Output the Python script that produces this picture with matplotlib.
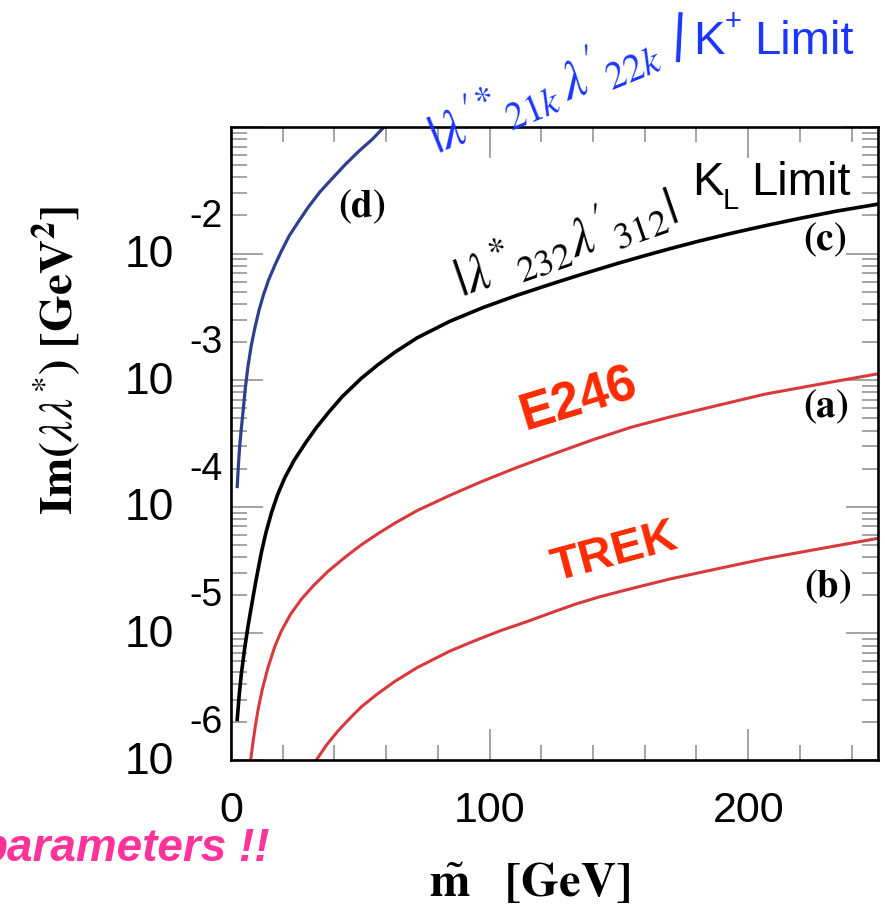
import matplotlib
matplotlib.use("Agg")
import matplotlib.pyplot as plt
import numpy as np
from matplotlib.ticker import FixedLocator, NullFormatter

plt.rcParams["mathtext.fontset"] = "stix"
plt.rcParams["font.family"] = ["Liberation Sans", "DejaVu Sans"]

# limit curves, Im(lambda lambda*) [GeV^2] vs m~ [GeV]; stored as log10(Im)
m_d = [2.4, 2.9, 3.4, 4.0, 4.7, 5.5, 6.5, 7.8, 9.2, 10.8, 12.5, 14.5, 17.0,
       19.5, 22.5, 26.0, 30.0, 34.5, 39.0, 44.0, 49.5, 54.5, 59.2]
log_d = [-3.84, -3.66, -3.51, -3.38, -3.24, -3.07, -2.90, -2.73, -2.59, -2.45,
         -2.33, -2.21, -2.09, -1.98, -1.86, -1.75, -1.63, -1.51, -1.41, -1.30,
         -1.19, -1.10, -1.00]

m_c = [2.4, 3.2, 4.0, 5.2, 6.6, 8.0, 9.5, 11.7, 13.5, 15.6, 18.0, 20.8, 24.5,
       29.0, 33.0, 37.5, 43.0, 50.4, 57.0, 63.3, 72.0, 84.6, 97.6, 110.5,
       123.4, 136.2, 149.1, 160.0, 169.8, 181.0, 193.6, 206.0, 219.4, 234.0,
       250.0]
log_c = [-5.68, -5.48, -5.32, -5.13, -4.94, -4.775, -4.60, -4.365, -4.205,
         -4.05, -3.905, -3.77, -3.63, -3.49, -3.375, -3.26, -3.13, -2.985,
         -2.875, -2.78, -2.665, -2.535, -2.425, -2.33, -2.243, -2.16, -2.08,
         -2.016, -1.961, -1.901, -1.839, -1.782, -1.724, -1.665, -1.61]

m_a = [7.6, 8.5, 9.5, 10.4, 12.0, 14.3, 17.0, 19.5, 23.0, 27.2, 32.0, 37.5,
       44.0, 50.4, 57.0, 63.3, 72.0, 84.6, 97.0, 110.5, 125.0, 140.0, 155.0,
       169.8, 188.0, 206.5, 228.0, 250.0]
log_a = [-6.00, -5.86, -5.72, -5.61, -5.45, -5.27, -5.10, -4.98, -4.85, -4.73,
         -4.62, -4.51, -4.40, -4.30, -4.21, -4.13, -4.03, -3.91, -3.80, -3.69,
         -3.58, -3.47, -3.37, -3.29, -3.20, -3.11, -3.03, -2.95]

m_b = [33.0, 37.0, 41.4, 46.0, 50.4, 56.5, 63.3, 72.0, 84.6, 94.0, 104.0,
       114.0, 123.4, 133.0, 142.7, 156.0, 169.8, 188.0, 206.5, 228.0, 250.0]
log_b = [-6.00, -5.88, -5.77, -5.67, -5.58, -5.48, -5.38, -5.27, -5.14, -5.06,
         -4.98, -4.91, -4.84, -4.77, -4.71, -4.64, -4.57, -4.49, -4.41, -4.33,
         -4.25]

x_ticks = [0, 100, 200]
y_decades = [-2, -3, -4, -5, -6]

W, H = 885, 907
fig = plt.figure(figsize=(W / 100, H / 100), dpi=100)
ax = fig.add_axes([231 / W, 1 - 760 / H, (877.5 - 231) / W, (760 - 127) / H])


def px(x, y):
    return x / W, 1 - y / H


ax.plot(m_d, np.power(10.0, log_d), color="#2e3f90", lw=2.3)
ax.plot(m_c, np.power(10.0, log_c), color="black", lw=2.6)
ax.plot(m_a, np.power(10.0, log_a), color="#d83a3c", lw=2.2)
ax.plot(m_b, np.power(10.0, log_b), color="#d83a3c", lw=2.2)

ax.set_xlim(0, 250)
ax.set_yscale("log")
ax.set_ylim(1e-6, 1e-1)

# ROOT-like ticks: inward, on all four sides, gray
ax.xaxis.set_major_locator(FixedLocator(x_ticks))
ax.xaxis.set_minor_locator(FixedLocator([v for v in range(20, 250, 20) if v % 100]))
ax.yaxis.set_major_locator(FixedLocator([10.0 ** k for k in range(-6, 0)]))
ax.yaxis.set_minor_locator(FixedLocator([f * 10.0 ** k for k in range(-6, -1)
                                         for f in range(2, 10)]))
ax.tick_params(which="both", direction="in", top=True, right=True,
               color="#8a8a8a", width=1.1)
ax.tick_params(axis="x", which="major", length=22, pad=22, labelsize=31)
ax.tick_params(axis="x", which="minor", length=11)
ax.tick_params(axis="y", which="major", length=23, labelleft=False)
ax.tick_params(axis="y", which="minor", length=11.5)
ax.set_xticklabels([str(v) for v in x_ticks])
ax.yaxis.set_minor_formatter(NullFormatter())
for s in ax.spines.values():
    s.set_linewidth(1.9)
    s.set_color("black")

# y tick labels drawn as "10" with a detached exponent
for k in y_decades:
    ty = 127 + (-1 - k) * 126.6
    fig.text(*px(174, ty + 2), "10", ha="right", va="center", fontsize=32)
    fig.text(*px(189, ty - 37), f"-{-k}", ha="left", va="center", fontsize=27)

fig.text(*px(57, 360), r"$\mathbf{Im(}\lambda\lambda^{*}\mathbf{)\ [GeV^{2}]}$",
         rotation=90, ha="center", va="center", fontsize=34)
fig.text(*px(530, 897), r"$\tilde{\mathbf{m}}\ \ \ \mathbf{[GeV]}$",
         ha="center", va="baseline", fontsize=35)

# curve labels
for lab, (x, y) in [("(d)", (362, 207)), ("(c)", (825, 240)),
                    ("(a)", (826, 407)), ("(b)", (828, 587))]:
    fig.text(*px(x, y), r"$\mathbf{%s}$" % lab, ha="center", va="center",
             fontsize=28)

blue = "#1a36ff"
fig.text(*px(543, 92), r"$|\lambda'^{*}{}_{21k}\,\lambda'{}_{22k}$",
         rotation=22, rotation_mode="anchor", ha="center", va="center",
         fontsize=39, color=blue)
fig.text(*px(678, 37), "|", rotation=-3, ha="center", va="center",
         fontsize=38, color=blue)
fig.text(*px(693, 54), "K", ha="left", va="baseline", fontsize=34, color=blue)
fig.text(*px(725, 30), "+", ha="left", va="baseline", fontsize=21, color=blue)
fig.text(*px(754, 54), "Limit", ha="left", va="baseline", fontsize=34,
         color=blue)

fig.text(*px(565, 243), r"$|\lambda^{*}{}_{232}\lambda'{}_{312}|$",
         rotation=19, rotation_mode="anchor", ha="center", va="center",
         fontsize=38, color="black")
fig.text(*px(692, 195), "K", ha="left", va="baseline", fontsize=34)
fig.text(*px(723, 209), "L", ha="left", va="baseline", fontsize=21)
fig.text(*px(751, 195), "Limit", ha="left", va="baseline", fontsize=34)

red = "#ff2a00"
fig.text(*px(579, 400), "E246", rotation=17, rotation_mode="anchor",
         ha="center", va="center", fontsize=37, fontweight="bold", color=red)
fig.text(*px(615, 553), "TREK", rotation=15, rotation_mode="anchor",
         ha="center", va="center", fontsize=34, fontweight="bold", color=red)

fig.text(*px(270, 861), "parameters !!", ha="right", va="baseline",
         fontsize=33, fontweight="bold", style="italic", color="#ff3399")

fig.savefig("out.png", dpi=100, facecolor="white")
